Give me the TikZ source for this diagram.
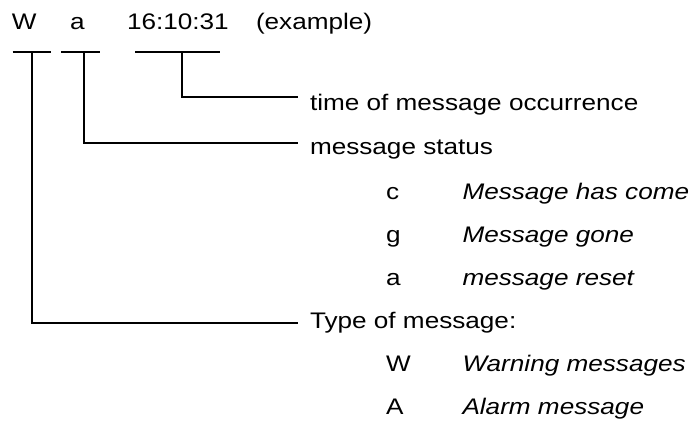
\documentclass[tikz,border=0pt]{standalone}
\usepackage{fontspec}
\setmainfont[FakeStretch=1.16]{Liberation Sans}

\begin{document}
\begin{tikzpicture}[x = 0.75pt, y = -0.75pt, line width = 1.5pt,
    every node/.style = {inner sep = 0pt, anchor = base west, font = \fontsize{16.9pt}{20pt}\selectfont},
    desc/.style = {font = \fontsize{16.9pt}{20pt}\selectfont\itshape}]
\useasboundingbox (0,0) rectangle (691,421);
\node (w) at (11,29.5) {W};
\node (a) at (69,29.5) {a};
\node (t) at (126,29.5) {16:10:31};
\node (ex) at (255,29.5) {(example)};
% underlines
\coordinate (wl) at (12.5,52);
\coordinate (wr) at (51,52);
\coordinate (wm) at (32.3,52);
\coordinate (al) at (61,52);
\coordinate (ar) at (100,52);
\coordinate (am) at (84,52);
\coordinate (tl) at (135,52);
\coordinate (tr) at (220,52);
\coordinate (tm) at (181.7,52);
\draw (wl) -- (wr);
\draw (al) -- (ar);
\draw (tl) -- (tr);
% explanations
\node (time) at (309,110) {time of message occurrence};
\node (status) at (309,154) {message status};
\node (sc) at (385,199) {c};
\node[desc] (dc) at (461.5,199) {Message has come};
\node (sg) at (385,242) {g};
\node[desc] (dg) at (461.5,242) {Message gone};
\node (sa) at (385,285) {a};
\node[desc] (da) at (461.5,285) {message reset};
\node (type) at (309,328) {Type of message:};
\node (tw) at (385,371) {W};
\node[desc] (dw) at (461.5,371) {Warning messages};
\node (ta) at (385,414) {A};
\node[desc] (dta) at (461.5,414) {Alarm message};
% leaders
\coordinate (etime) at (297.5,97.3);
\coordinate (estatus) at (297.5,142.7);
\coordinate (etype) at (297.5,322.7);
\draw (tm) |- (etime);
\draw (am) |- (estatus);
\draw (wm) |- (etype);
\end{tikzpicture}
\end{document}
